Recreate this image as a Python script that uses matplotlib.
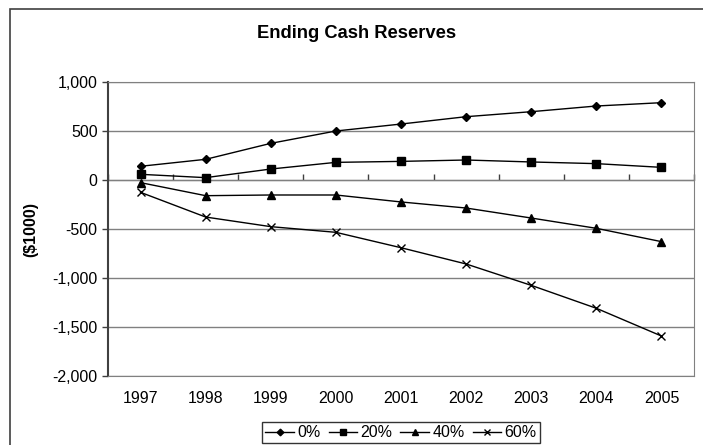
import numpy as np
import matplotlib.pyplot as plt
from matplotlib.patches import Rectangle

plt.rcParams['font.family'] = ['Liberation Sans', 'DejaVu Sans']

years = ['1997', '1998', '1999', '2000', '2001', '2002', '2003', '2004', '2005']
r0 = [140, 211, 374, 500, 571, 646, 697, 755, 789]
r20 = [58, 24, 112, 180, 190, 204, 184, 167, 129]
r40 = [-27, -160, -153, -153, -224, -286, -388, -493, -629]
r60 = [-126, -378, -476, -534, -691, -857, -1075, -1309, -1592]
labels = ['0%', '20%', '40%', '60%']

W, H = 703, 445
fig = plt.figure(figsize=(W/100, H/100), dpi=100)
ax = fig.add_axes([108/W, 1-376/H, (694-108)/W, (376-82)/H])

x = np.arange(len(years))
ax.plot(x, r0, 'k-', marker='D', ms=4.5, lw=1, label=labels[0])
ax.plot(x, r20, 'k-', marker='s', ms=6, lw=1, label=labels[1])
ax.plot(x, r40, 'k-', marker='^', ms=6, lw=1, label=labels[2])
ax.plot(x, r60, 'k-', marker='x', ms=6, mew=1, lw=1, label=labels[3])

ax.set_xlim(-0.5, len(years)-0.5)
ax.set_ylim(-2000, 1000)
ax.set_yticks(np.arange(-2000, 1001, 500))
ax.set_yticklabels(['{:,}'.format(v) for v in range(-2000, 1001, 500)])
ax.yaxis.grid(True, color='#808080', lw=1)
ax.set_axisbelow(True)
ax.set_xticks(x)
ax.set_xticklabels(years)
ax.tick_params(axis='x', length=0, pad=11, labelsize=11.5)
ax.tick_params(axis='y', length=4, width=1, color='#404040', labelsize=11.5)

for s in ['top', 'right', 'bottom']:
    ax.spines[s].set_color('#808080')
ax.spines['left'].set_color('#404040')
ax.spines['left'].set_linewidth(1.5)

# category axis crossing at zero, ticks between categories
sec = ax.secondary_xaxis(2/3)
sec.set_xticks(np.arange(len(years)+1) - 0.5)
sec.set_xticklabels([])
sec.tick_params(direction='out', length=4, width=1, color='#404040')
sec.spines['bottom'].set_color('#404040')
sec.spines['bottom'].set_linewidth(1.5)

ax.set_ylabel('($1000)', fontsize=11.5, fontweight='bold', labelpad=10)
fig.text(357/W, 1-33/H, 'Ending Cash Reserves', ha='center', va='center',
         fontsize=13.2, fontweight='bold')

leg = fig.legend(loc='upper center', bbox_to_anchor=(401/W, 1-422/H), ncol=4,
                 frameon=True, fancybox=False, edgecolor='black',
                 fontsize=11.5, handlelength=1.8, handletextpad=0.2,
                 columnspacing=0.5, borderpad=0.2, borderaxespad=0,
                 markerscale=0.75)
leg.get_frame().set_linewidth(1)

fig.patches.append(Rectangle((10/W, -0.05), 1.05, 1-9/H+0.05, transform=fig.transFigure,
                             fill=False, edgecolor='#404040', lw=1.2, clip_on=False))

fig.savefig('out.png', dpi=100)
